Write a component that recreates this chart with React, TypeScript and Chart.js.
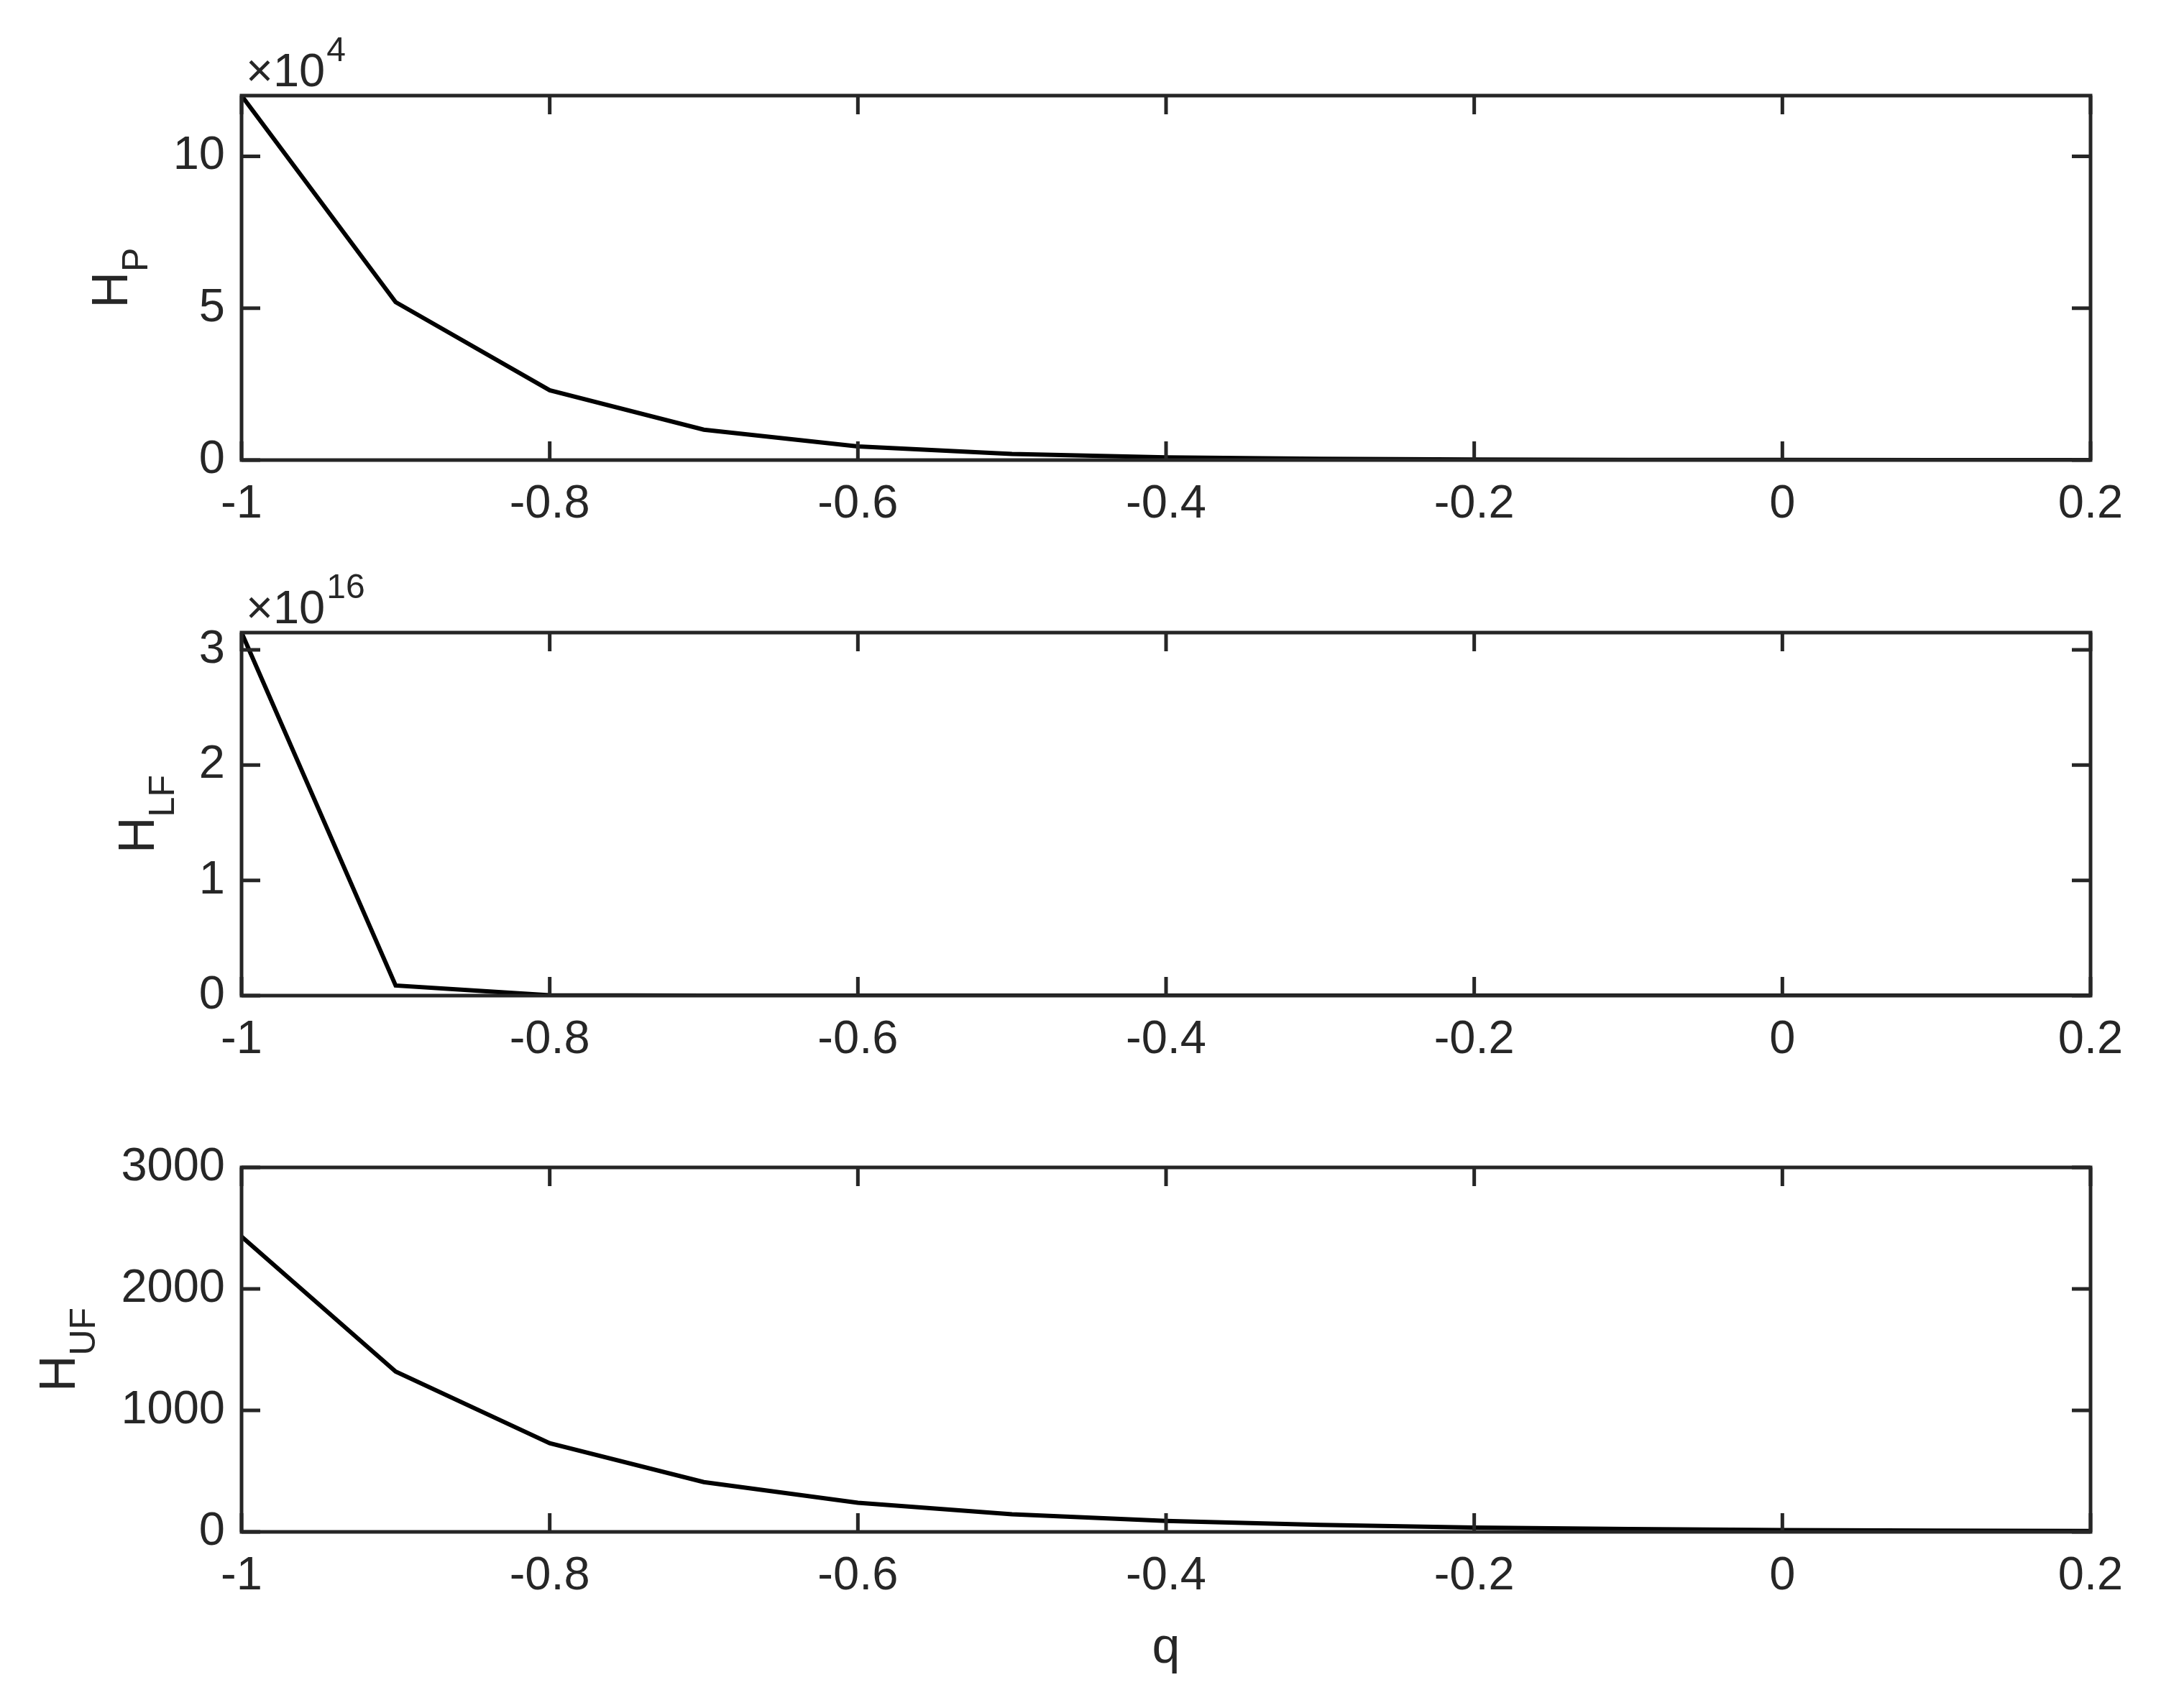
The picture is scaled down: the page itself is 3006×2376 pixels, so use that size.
import React, { useEffect, useRef } from "react";
import { Chart, registerables } from "chart.js";

Chart.register(...registerables);

// ---------- data ----------
const Q = [-1, -0.9, -0.8, -0.7, -0.6, -0.5, -0.4, -0.3, -0.2, -0.1, 0, 0.1, 0.2];
// H_P in units of 10^4
const H_P = [12, 5.2, 2.3, 1.0, 0.45, 0.2, 0.09, 0.04, 0.018, 0.008, 0.0035, 0.0015, 0.0007];
// H_LF in units of 10^16
const H_LF = [3.15, 0.088, 0.0025, 0.0001, 0.00001, 0, 0, 0, 0, 0, 0, 0, 0];
// H_UF
const H_UF = [2430, 1320, 730, 410, 240, 145, 90, 57, 36, 23, 15, 10, 7];

const X_TICKS = [-1, -0.8, -0.6, -0.4, -0.2, 0, 0.2];
const X_TICK_LABELS = ["-1", "-0.8", "-0.6", "-0.4", "-0.2", "0", "0.2"];
const X_MIN = -1;
const X_MAX = 0.2;

const P_TICKS = [0, 5, 10];
const P_TICK_LABELS = ["0", "5", "10"];
const P_MAX = 12;
const P_EXP = "4";

const LF_TICKS = [0, 1, 2, 3];
const LF_TICK_LABELS = ["0", "1", "2", "3"];
const LF_MAX = 3.15;
const LF_EXP = "16";

const UF_TICKS = [0, 1000, 2000, 3000];
const UF_TICK_LABELS = ["0", "1000", "2000", "3000"];
const UF_MAX = 3000;

const X_TITLE = "q";

// ---------- style ----------
const FONT = "'Liberation Sans', Arial, Helvetica, sans-serif";
const TEXT = "#262626";
const AXIS = "#262626";
const TICK_FONT_SIZE = 65;
const TITLE_FONT_SIZE = 70;
const SUB_FONT_SIZE = 50;
const TICK_LEN = 26;
const AXIS_LW = 5;

type Panel = {
  data: number[];
  yMax: number;
  yTicks: number[];
  yTickLabels: string[];
  titleMain: string;
  titleSub: string;
  exp?: string;
  canvasTop: number;
  canvasHeight: number;
  padTop: number;
  xAxisHeight: number;
  titleBaselineX: number;
  showXTitle?: boolean;
};

const PANELS: Panel[] = [
  {
    data: H_P, yMax: P_MAX, yTicks: P_TICKS, yTickLabels: P_TICK_LABELS,
    titleMain: "H", titleSub: "P", exp: P_EXP,
    canvasTop: 0, canvasHeight: 780, padTop: 133, xAxisHeight: 140, titleBaselineX: 177,
  },
  {
    data: H_LF, yMax: LF_MAX, yTicks: LF_TICKS, yTickLabels: LF_TICK_LABELS,
    titleMain: "H", titleSub: "LF", exp: LF_EXP,
    canvasTop: 780, canvasHeight: 745, padTop: 100, xAxisHeight: 140, titleBaselineX: 214,
  },
  {
    data: H_UF, yMax: UF_MAX, yTicks: UF_TICKS, yTickLabels: UF_TICK_LABELS,
    titleMain: "H", titleSub: "UF",
    canvasTop: 1525, canvasHeight: 846, padTop: 99, xAxisHeight: 240, titleBaselineX: 104,
    showXTitle: true,
  },
];

function makeDecorPlugin(p: Panel) {
  return {
    id: "matlabDecor",
    afterDatasetsDraw(chart: any) {
      const ctx = chart.ctx as CanvasRenderingContext2D;
      const { left, right, top, bottom } = chart.chartArea;
      const xs = chart.scales.x;
      const ys = chart.scales.y;
      ctx.save();
      ctx.strokeStyle = AXIS;
      ctx.lineWidth = AXIS_LW;
      ctx.lineCap = "butt";
      // inward ticks
      ctx.beginPath();
      X_TICKS.forEach((v) => {
        const px = xs.getPixelForValue(v);
        ctx.moveTo(px, bottom);
        ctx.lineTo(px, bottom - TICK_LEN);
        ctx.moveTo(px, top);
        ctx.lineTo(px, top + TICK_LEN);
      });
      p.yTicks.forEach((v) => {
        const py = ys.getPixelForValue(v);
        ctx.moveTo(left, py);
        ctx.lineTo(left + TICK_LEN, py);
        ctx.moveTo(right, py);
        ctx.lineTo(right - TICK_LEN, py);
      });
      ctx.stroke();
      // box
      ctx.lineJoin = "miter";
      ctx.strokeRect(left, top, right - left, bottom - top);

      ctx.fillStyle = TEXT;
      ctx.textBaseline = "alphabetic";
      ctx.textAlign = "left";

      // y title with subscript
      const cy = (top + bottom) / 2;
      ctx.save();
      ctx.translate(p.titleBaselineX, cy);
      ctx.rotate(-Math.PI / 2);
      ctx.font = `${TITLE_FONT_SIZE}px ${FONT}`;
      const wMain = ctx.measureText(p.titleMain).width;
      ctx.font = `${SUB_FONT_SIZE}px ${FONT}`;
      const wSub = ctx.measureText(p.titleSub).width;
      const start = -(wMain + wSub) / 2;
      ctx.font = `${TITLE_FONT_SIZE}px ${FONT}`;
      ctx.fillText(p.titleMain, start, 0);
      ctx.font = `${SUB_FONT_SIZE}px ${FONT}`;
      ctx.fillText(p.titleSub, start + wMain, 28);
      ctx.restore();

      // exponent label
      if (p.exp) {
        const bx = left + 6;
        const by = top - 13;
        ctx.font = `${TICK_FONT_SIZE}px ${FONT}`;
        const base = "\u00D710";
        ctx.fillText(base, bx, by);
        const wb = ctx.measureText(base).width;
        ctx.font = `${48}px ${FONT}`;
        ctx.fillText(p.exp, bx + wb + 2, by - 35);
      }

      // x title
      if (p.showXTitle) {
        ctx.font = `${TITLE_FONT_SIZE}px ${FONT}`;
        ctx.textAlign = "center";
        ctx.fillText(X_TITLE, (left + right) / 2, bottom + 182);
      }
      ctx.restore();
    },
  };
}

function PanelChart({ p }: { p: Panel }) {
  const ref = useRef<HTMLCanvasElement | null>(null);
  useEffect(() => {
    if (!ref.current) return;
    const chart = new Chart(ref.current, {
      type: "line",
      data: {
        datasets: [
          {
            data: Q.map((x, i) => ({ x, y: p.data[i] })),
            borderColor: "#000000",
            borderWidth: 6,
            pointRadius: 0,
            tension: 0,
            fill: false,
          },
        ],
      },
      options: {
        animation: false,
        responsive: false,
        devicePixelRatio: 1,
        events: [],
        layout: { padding: { top: p.padTop, left: 0, right: 98, bottom: 0 } },
        plugins: { legend: { display: false }, tooltip: { enabled: false } },
        scales: {
          x: {
            type: "linear",
            min: X_MIN,
            max: X_MAX,
            grid: { display: false, drawTicks: false },
            border: { display: false },
            afterBuildTicks: (s: any) => {
              s.ticks = X_TICKS.map((v) => ({ value: v }));
            },
            afterFit: (s: any) => {
              s.height = p.xAxisHeight;
            },
            ticks: {
              autoSkip: false,
              maxRotation: 0,
              padding: 23,
              color: TEXT,
              font: { family: FONT, size: TICK_FONT_SIZE },
              callback: (v: any) => {
                const i = X_TICKS.findIndex((t) => Math.abs(t - Number(v)) < 1e-9);
                return i >= 0 ? X_TICK_LABELS[i] : "";
              },
            },
          },
          y: {
            type: "linear",
            min: 0,
            max: p.yMax,
            grid: { display: false, drawTicks: false },
            border: { display: false },
            afterBuildTicks: (s: any) => {
              s.ticks = p.yTicks.map((v) => ({ value: v }));
            },
            afterFit: (s: any) => {
              s.width = 336;
            },
            ticks: {
              autoSkip: false,
              padding: 23,
              color: TEXT,
              font: { family: FONT, size: TICK_FONT_SIZE },
              callback: (v: any) => {
                const i = p.yTicks.findIndex((t) => Math.abs(t - Number(v)) < 1e-9);
                return i >= 0 ? p.yTickLabels[i] : "";
              },
            },
          },
        },
      },
      plugins: [makeDecorPlugin(p)],
    } as any);
    return () => chart.destroy();
  }, [p]);
  return (
    <canvas
      ref={ref}
      width={3006}
      height={p.canvasHeight}
      style={{ position: "absolute", left: 0, top: p.canvasTop, width: 3006, height: p.canvasHeight }}
    />
  );
}

export default function App() {
  return (
    <div style={{ position: "absolute", left: 0, top: 0, width: 3006, height: 2376, background: "#ffffff" }}>
      {PANELS.map((p, i) => (
        <PanelChart key={i} p={p} />
      ))}
    </div>
  );
}
